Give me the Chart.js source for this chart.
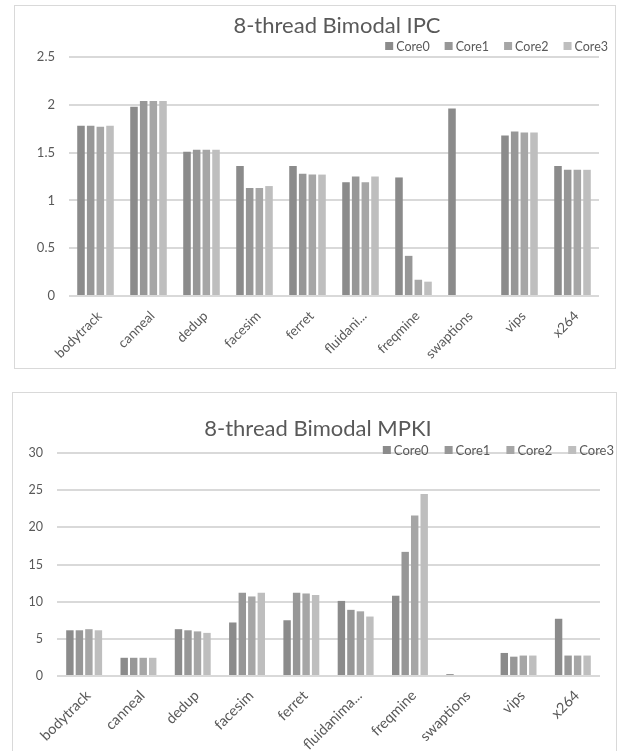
<!DOCTYPE html>
<html>
<head>
<meta charset="utf-8">
<script src="https://cdn.jsdelivr.net/npm/chart.js@4"></script>
<style>
  html, body { margin: 0; padding: 0; background: #ffffff; }
  body { width: 620px; height: 751px; position: relative; overflow: hidden; }
  .frame { position: absolute; border: 1px solid #d9d9d9; box-sizing: border-box; background: #ffffff; }
  canvas { position: absolute; left: 0; }
</style>
</head>
<body>
<div class="frame" style="left:14px; top:5px; width:602px; height:364px;"></div>
<div class="frame" style="left:12px; top:392px; width:605px; height:380px;"></div>
<canvas id="ipc" width="620" height="380" style="top:0"></canvas>
<canvas id="mpki" width="620" height="371" style="top:380px"></canvas>
<script>
// Benchmarks (PARSEC) and per-core results, 8-thread runs with the bimodal predictor
const ipcTickLabels  = ['bodytrack', 'canneal', 'dedup', 'facesim', 'ferret', 'fluidani...', 'freqmine', 'swaptions', 'vips', 'x264'];
const mpkiTickLabels = ['bodytrack', 'canneal', 'dedup', 'facesim', 'ferret', 'fluidanima...', 'freqmine', 'swaptions', 'vips', 'x264'];
const coreNames = ['Core0', 'Core1', 'Core2', 'Core3'];

const ipcCore0 = [1.78, 1.98, 1.51, 1.36, 1.36, 1.19, 1.24, 1.96, 1.68, 1.36];
const ipcCore1 = [1.78, 2.04, 1.53, 1.13, 1.28, 1.25, 0.42, 0,    1.72, 1.32];
const ipcCore2 = [1.77, 2.04, 1.53, 1.13, 1.27, 1.19, 0.17, 0,    1.71, 1.32];
const ipcCore3 = [1.78, 2.04, 1.53, 1.15, 1.27, 1.25, 0.15, 0,    1.71, 1.32];

const mpkiCore0 = [6.15, 2.45, 6.3,  7.2,  7.5,  10.1, 10.8, 0.25, 3.1,  7.7];
const mpkiCore1 = [6.15, 2.45, 6.15, 11.2, 11.2, 8.9,  16.7, 0,    2.6,  2.75];
const mpkiCore2 = [6.3,  2.45, 6.0,  10.7, 11.1, 8.7,  21.6, 0,    2.75, 2.75];
const mpkiCore3 = [6.15, 2.45, 5.8,  11.2, 10.9, 8.0,  24.5, 0,    2.75, 2.75];

const coreColors = ['#8b8b8b', '#979797', '#a6a6a6', '#bebebe'];
const TEXT = '#595959';
const FONT = 'Lato, "Open Sans", sans-serif';

// Title and a right-aligned legend row drawn on top of the chart
const headerPlugin = {
  id: 'header',
  afterDraw(chart, args, o) {
    const ctx = chart.ctx;
    ctx.save();
    ctx.fillStyle = TEXT;
    ctx.textBaseline = 'middle';
    ctx.textAlign = 'center';
    ctx.font = o.titleSize + 'px ' + FONT;
    ctx.fillText(o.title, o.titleX, o.titleY);

    ctx.font = o.legendSize + 'px ' + FONT;
    ctx.textAlign = 'left';
    const items = chart.data.datasets.map(d => ({
      label: d.label, color: d.backgroundColor, w: ctx.measureText(d.label).width
    }));
    let total = 0;
    items.forEach((it, i) => { total += o.box + o.gap + it.w + (i ? o.spacing : 0); });
    let x = o.legendRight - total;
    items.forEach(it => {
      ctx.fillStyle = it.color;
      ctx.fillRect(x, o.legendY - o.box / 2, o.box, o.box);
      ctx.fillStyle = TEXT;
      ctx.fillText(it.label, x + o.box + o.gap, o.legendY + 0.5);
      x += o.box + o.gap + it.w + o.spacing;
    });
    ctx.restore();
  }
};

function makeChart(id, tickLabels, series, yMax, yStep, layout, header) {
  return new Chart(document.getElementById(id), {
    type: 'bar',
    data: {
      labels: tickLabels,
      datasets: series.map((vals, i) => ({
        label: coreNames[i],
        data: vals,
        backgroundColor: coreColors[i],
        borderWidth: 0,
        categoryPercentage: layout.cat,
        barPercentage: layout.bar
      }))
    },
    options: {
      responsive: false,
      animation: false,
      devicePixelRatio: 1,
      layout: { padding: { top: layout.top, left: 0, right: layout.right, bottom: 0 } },
      plugins: {
        legend: { display: false },
        title: { display: false },
        tooltip: { enabled: false },
        header: header
      },
      scales: {
        x: {
          grid: { display: false },
          border: { display: false },
          ticks: {
            color: TEXT, font: { family: FONT, size: layout.xFont },
            minRotation: 45, maxRotation: 45, autoSkip: false,
            padding: layout.xPad, labelOffset: 4
          },
          afterFit(s) { s.height = layout.xHeight; }
        },
        y: {
          min: 0, max: yMax,
          grid: { color: '#d9d9d9', lineWidth: 2, drawTicks: false },
          border: { display: false },
          ticks: {
            stepSize: yStep, color: TEXT, font: { family: FONT, size: layout.yFont }, padding: 14,
            callback: v => String(Math.round(v * 100) / 100)
          },
          afterFit(s) { s.width = layout.yWidth; }
        }
      }
    },
    plugins: [headerPlugin]
  });
}

makeChart('ipc', ipcTickLabels, [ipcCore0, ipcCore1, ipcCore2, ipcCore3], 2.5, 0.5,
  { top: 57, right: 21, yWidth: 69, xHeight: 84, cat: 0.73, bar: 0.78, xFont: 13.5, yFont: 13, xPad: 4 },
  { title: '8-thread Bimodal IPC', titleSize: 22, titleX: 337, titleY: 26,
    legendSize: 12.5, legendRight: 608, legendY: 46, box: 8, gap: 3, spacing: 15 });

makeChart('mpki', mpkiTickLabels, [mpkiCore0, mpkiCore1, mpkiCore2, mpkiCore3], 30, 5,
  { top: 73, right: 20, yWidth: 57, xHeight: 75, cat: 0.70, bar: 0.78, xFont: 14.5, yFont: 12.5, xPad: 3 },
  { title: '8-thread Bimodal MPKI', titleSize: 22, titleX: 318, titleY: 49,
    legendSize: 13, legendRight: 614, legendY: 70, box: 8, gap: 3, spacing: 16 });
</script>
</body>
</html>
